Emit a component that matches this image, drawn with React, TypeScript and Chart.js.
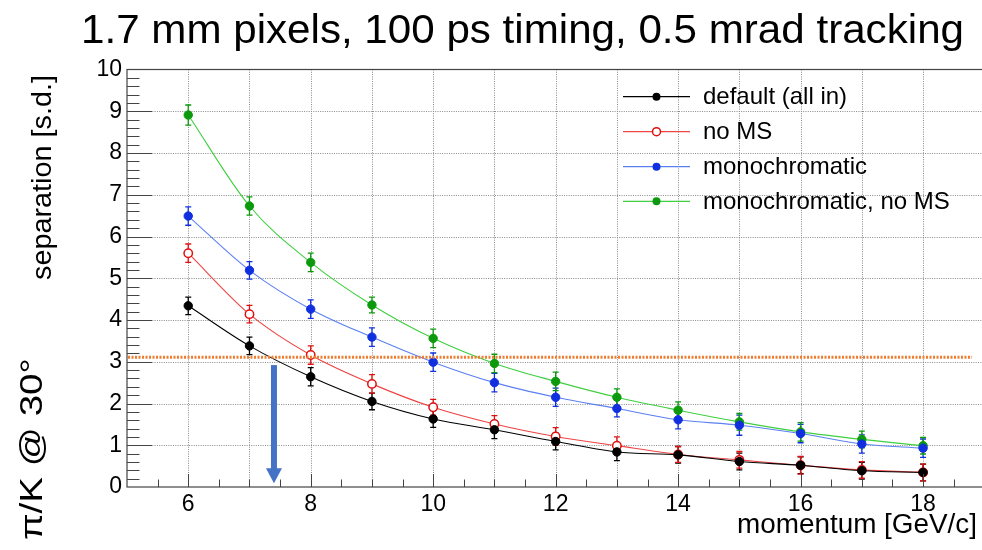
import React, { useEffect, useRef } from "react";
import { Chart, registerables } from "chart.js";

Chart.register(...registerables);

// ---------- data ----------
const momentum = [6, 7, 8, 9, 10, 11, 12, 13, 14, 15, 16, 17, 18];
const sepDefault = [4.34, 3.38, 2.64, 2.05, 1.63, 1.37, 1.09, 0.84, 0.77, 0.61, 0.52, 0.39, 0.35];
const sepNoMS = [5.6, 4.14, 3.16, 2.47, 1.91, 1.51, 1.21, 0.99, 0.78, 0.65, 0.52, 0.41, 0.35];
const sepMono = [6.49, 5.19, 4.26, 3.59, 2.99, 2.5, 2.15, 1.88, 1.61, 1.48, 1.28, 1.03, 0.93];
const sepMonoNoMS = [8.91, 6.73, 5.38, 4.36, 3.56, 2.96, 2.53, 2.15, 1.84, 1.56, 1.32, 1.14, 0.99];
const errDefault = [0.21, 0.21, 0.22, 0.2, 0.2, 0.21, 0.2, 0.21, 0.2, 0.2, 0.2, 0.2, 0.2];
const errNoMS = [0.22, 0.21, 0.22, 0.22, 0.19, 0.2, 0.21, 0.21, 0.19, 0.2, 0.21, 0.2, 0.2];
const errMono = [0.22, 0.21, 0.22, 0.22, 0.22, 0.22, 0.22, 0.2, 0.22, 0.24, 0.22, 0.22, 0.22];
const errMonoNoMS = [0.24, 0.22, 0.22, 0.19, 0.22, 0.22, 0.22, 0.2, 0.2, 0.2, 0.22, 0.2, 0.2];
const seriesLabels = ["default (all in)", "no MS", "monochromatic", "monochromatic, no MS"];

const xTickLabels = [6, 8, 10, 12, 14, 16, 18];
const yTickLabels = [0, 1, 2, 3, 4, 5, 6, 7, 8, 9, 10];
const xRange = [5, 19];
const yRange = [0, 10];

const thresholdY = 3.11;
const thresholdX = [5, 18.8];
const arrowX = 7.4;
const arrowYs = [2.92, 0.09];

const titleText = "1.7 mm pixels, 100 ps timing, 0.5 mrad tracking";
const yTitleText = "separation [s.d.]";
const xTitleText = "momentum [GeV/c]";
const sideText = "\u03C0/K @ 30\u00B0";

// ---------- styles ----------
const FONT = '"Liberation Sans", Arial, Helvetica, sans-serif';
const styles = [
  { line: "#000000", marker: "#000000", fill: "#000000", open: false },
  { line: "#ee4444", marker: "#e01010", fill: "rgba(255,255,255,0)", open: true },
  { line: "#5b80f2", marker: "#1030e0", fill: "#1030e0", open: false },
  { line: "#3fcf3f", marker: "#0c9a0c", fill: "#0c9a0c", open: false },
];
const seriesValues = [sepDefault, sepNoMS, sepMono, sepMonoNoMS];
const seriesErrors = [errDefault, errNoMS, errMono, errMonoNoMS];

function fitText(ctx: CanvasRenderingContext2D, text: string, cx: number, cy: number, size: number, target: number, angle: number) {
  ctx.save();
  ctx.font = `${size}px ${FONT}`;
  const w = ctx.measureText(text).width;
  ctx.translate(cx, cy);
  ctx.rotate(angle);
  ctx.scale(target / w, 1);
  ctx.textAlign = "center";
  ctx.textBaseline = "alphabetic";
  ctx.fillStyle = "#000";
  ctx.fillText(text, 0, 0);
  ctx.restore();
}

const rootPlugin = {
  id: "rootStyle",
  beforeDatasetsDraw(chart: any) {
    const ctx = chart.ctx as CanvasRenderingContext2D;
    const xs = chart.scales.x;
    const ys = chart.scales.y;
    const a = chart.chartArea;
    ctx.save();
    // grid
    ctx.strokeStyle = "#8a8a8a";
    ctx.lineWidth = 1;
    ctx.setLineDash([1, 1.3]);
    for (let v = 6; v <= 19; v++) {
      const px = Math.round(xs.getPixelForValue(v)) + 0.5;
      ctx.beginPath();
      ctx.moveTo(px, a.top);
      ctx.lineTo(px, a.bottom);
      ctx.stroke();
    }
    for (let v = 1; v <= 9; v++) {
      const py = Math.round(ys.getPixelForValue(v)) + 0.5;
      ctx.beginPath();
      ctx.moveTo(a.left, py);
      ctx.lineTo(a.right, py);
      ctx.stroke();
    }
    ctx.setLineDash([]);
    // error bars
    seriesValues.forEach((vals, i) => {
      ctx.strokeStyle = styles[i].marker;
      ctx.lineWidth = 1.3;
      vals.forEach((v, j) => {
        const e = seriesErrors[i][j];
        const px = xs.getPixelForValue(momentum[j]);
        const y1 = ys.getPixelForValue(v - e);
        const y2 = ys.getPixelForValue(v + e);
        ctx.beginPath();
        ctx.moveTo(px, y1);
        ctx.lineTo(px, y2);
        ctx.moveTo(px - 3, y1);
        ctx.lineTo(px + 3, y1);
        ctx.moveTo(px - 3, y2);
        ctx.lineTo(px + 3, y2);
        ctx.stroke();
      });
    });
    ctx.restore();
  },
  afterDatasetsDraw(chart: any) {
    const ctx = chart.ctx as CanvasRenderingContext2D;
    const xs = chart.scales.x;
    const ys = chart.scales.y;
    const a = chart.chartArea;
    ctx.save();
    // frame
    ctx.strokeStyle = "#444";
    ctx.lineWidth = 1.2;
    ctx.strokeRect(a.left, a.top, a.right - a.left, a.bottom - a.top);
    // y ticks
    ctx.lineWidth = 1;
    ctx.strokeStyle = "#444";
    for (let k = 1; k < 50; k++) {
      const v = k * 0.2;
      const py = Math.round(ys.getPixelForValue(v)) + 0.5;
      const major = k % 5 === 0;
      ctx.beginPath();
      ctx.moveTo(a.left, py);
      ctx.lineTo(a.left + (major ? 25 : 12.5), py);
      ctx.stroke();
    }
    // x ticks
    for (let k = 11; k < 38; k++) {
      const v = k * 0.5;
      const px = Math.round(xs.getPixelForValue(v)) + 0.5;
      const major = v % 2 === 0;
      ctx.beginPath();
      ctx.moveTo(px, a.bottom);
      ctx.lineTo(px, a.bottom - (major ? 13 : 7.5));
      ctx.stroke();
    }
    // threshold line
    ctx.strokeStyle = "#ED7D31";
    ctx.lineWidth = 3;
    ctx.setLineDash([2, 1.5]);
    const ty = ys.getPixelForValue(thresholdY);
    ctx.beginPath();
    ctx.moveTo(xs.getPixelForValue(thresholdX[0]) + 1, ty);
    ctx.lineTo(xs.getPixelForValue(thresholdX[1]), ty);
    ctx.stroke();
    ctx.setLineDash([]);
    // arrow
    const ax = xs.getPixelForValue(arrowX);
    const aTop = ys.getPixelForValue(arrowYs[0]);
    const aTip = ys.getPixelForValue(arrowYs[1]);
    ctx.fillStyle = "#4472C4";
    ctx.fillRect(ax - 3, aTop, 6, aTip - aTop - 14);
    ctx.beginPath();
    ctx.moveTo(ax - 8, aTip - 15);
    ctx.lineTo(ax + 8, aTip - 15);
    ctx.lineTo(ax, aTip);
    ctx.closePath();
    ctx.fill();
    ctx.restore();
  },
  afterDraw(chart: any) {
    const ctx = chart.ctx as CanvasRenderingContext2D;
    ctx.save();
    // legend
    const rows = [96.7, 131.7, 166.7, 201.3];
    ctx.font = `24px ${FONT}`;
    ctx.textBaseline = "middle";
    ctx.textAlign = "left";
    seriesLabels.forEach((lab, i) => {
      const y = rows[i];
      const st = styles[i];
      ctx.strokeStyle = st.line;
      ctx.lineWidth = 1.3;
      ctx.beginPath();
      ctx.moveTo(623, y);
      ctx.lineTo(690, y);
      ctx.stroke();
      ctx.beginPath();
      ctx.arc(656.5, y, 4, 0, Math.PI * 2);
      if (st.open) {
        ctx.fillStyle = "#fff";
        ctx.fill();
        ctx.strokeStyle = st.marker;
        ctx.lineWidth = 1.5;
        ctx.stroke();
      } else {
        ctx.fillStyle = st.fill;
        ctx.fill();
      }
      ctx.fillStyle = "#000";
      ctx.fillText(lab, 703, y + 1);
    });
    ctx.restore();
    // texts
    fitText(ctx, titleText, 522.5, 43, 40, 883, 0);
    fitText(ctx, yTitleText, 51, 177.5, 27, 205, -Math.PI / 2);
    fitText(ctx, xTitleText, 857, 533, 27, 240, 0);
    fitText(ctx, sideText, 42, 449, 31, 182, -Math.PI / 2);
  },
};

export default function App() {
  const ref = useRef<HTMLCanvasElement>(null);
  useEffect(() => {
    if (!ref.current) return;
    const datasets = seriesValues.map((vals, i) => ({
      label: seriesLabels[i],
      data: momentum.map((m, j) => ({ x: m, y: vals[j] })),
      borderColor: styles[i].line,
      borderWidth: 1.1,
      pointRadius: 4.2,
      pointHoverRadius: 4.2,
      pointBackgroundColor: styles[i].open ? "#ffffff" : styles[i].fill,
      pointBorderColor: styles[i].marker,
      pointBorderWidth: styles[i].open ? 1.5 : 1,
      cubicInterpolationMode: "monotone" as const,
      fill: false,
    }));
    const chart = new Chart(ref.current, {
      type: "line",
      data: { datasets },
      options: {
        animation: false,
        responsive: false,
        devicePixelRatio: 1,
        layout: { padding: { left: 0, top: 69.5, right: 5.5, bottom: 0 } },
        plugins: { legend: { display: false }, tooltip: { enabled: false }, title: { display: false } },
        scales: {
          x: {
            type: "linear",
            min: xRange[0],
            max: xRange[1],
            grid: { display: false, drawTicks: false },
            border: { display: false },
            ticks: {
              font: { family: FONT, size: 23 },
              color: "#000",
              padding: 4,
              maxRotation: 0,
              autoSkip: false,
            },
            afterBuildTicks: (s: any) => {
              s.ticks = xTickLabels.map((v) => ({ value: v }));
            },
            afterFit: (s: any) => {
              s.height = 63;
            },
          },
          y: {
            type: "linear",
            min: yRange[0],
            max: yRange[1],
            grid: { display: false, drawTicks: false },
            border: { display: false },
            ticks: {
              font: { family: FONT, size: 23 },
              color: "#000",
              padding: 5,
              autoSkip: false,
            },
            afterBuildTicks: (s: any) => {
              s.ticks = yTickLabels.map((v) => ({ value: v }));
            },
            afterFit: (s: any) => {
              s.width = 127;
            },
          },
        },
      },
      plugins: [rootPlugin],
    });
    return () => chart.destroy();
  }, []);
  return (
    <div style={{ position: "absolute", left: 0, top: 0, width: 982, height: 550, overflow: "hidden", background: "#fff" }}>
      <canvas ref={ref} width={990} height={550} style={{ display: "block", width: 990, height: 550 }} />
    </div>
  );
}
